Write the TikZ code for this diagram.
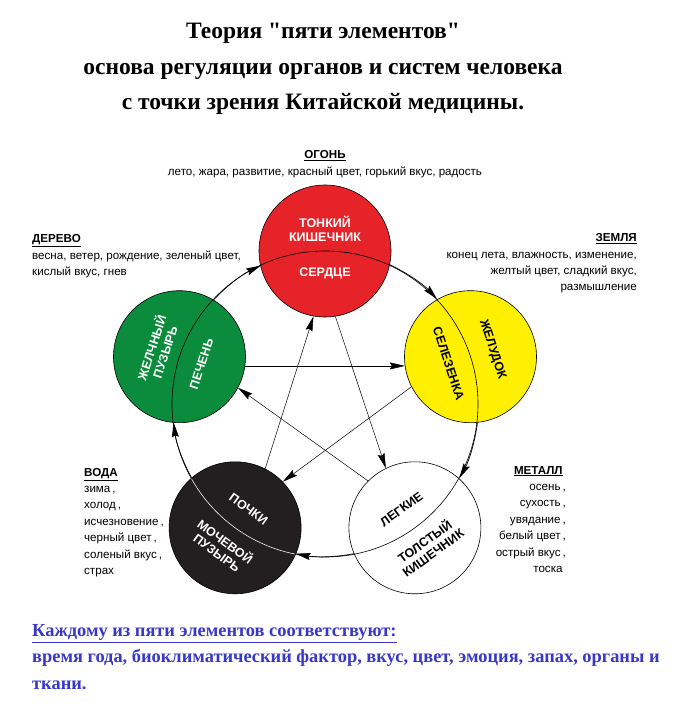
\documentclass[tikz,border=0pt]{standalone}
\usepackage{fontspec}
\setmainfont{Liberation Serif}[Ligatures=TeXOff]
\setsansfont{Liberation Sans}
\usetikzlibrary{arrows.meta}
\definecolor{firered}{RGB}{230,35,40}
\definecolor{woodgreen}{RGB}{10,140,60}
\definecolor{earthyellow}{RGB}{255,240,0}
\definecolor{waterblack}{RGB}{35,31,32}
\definecolor{noteblue}{RGB}{55,55,205}

\begin{document}
\begin{tikzpicture}[x=1pt, y=1pt, >={Stealth[length=15pt,width=7pt,inset=2pt]},
  element/.style={draw, circle, minimum size=132pt, inner sep=0pt, line width=0.6pt},
  organ/.style={font=\sffamily\bfseries\fontsize{12.5}{14}\selectfont, align=center, inner sep=0pt},
  info/.style={font=\sffamily\fontsize{11.6}{16.4}\selectfont, inner sep=0pt},
  cyc/.style={->, line width=0.7pt},
  ctrl/.style={->, line width=0.5pt}]
\useasboundingbox (0,0) rectangle (685,716);

\node[font=\bfseries\fontsize{23.5}{35.5}\selectfont, align=center] (title) at (323,647) {Теория "пяти элементов"\\основа регуляции органов и систем человека\\с точки зрения Китайской медицины.};

\coordinate (centre) at (325,312);
\node[element, fill=firered] (fire) at (325,465) {};
\node[element, fill=woodgreen] (wood) at (179.5,359.3) {};
\node[element, fill=earthyellow] (earth) at (470.5,359.3) {};
\node[element, fill=waterblack] (water) at (235.1,188.2) {};
\node[element, fill=white] (metal) at (414.9,188.2) {};

\draw[line width=0.6pt] (centre) circle[radius=153pt];
\begin{scope}
\clip (water.center) circle[radius=65.5pt];
\draw[white, line width=0.6pt] (centre) circle[radius=153pt];
\end{scope}

\node[organ, text=white] (smallint) at (325,487.5) {ТОНКИЙ\\КИШЕЧНИК};
\node[organ, text=white] (heart) at (325,443) {СЕРДЦЕ};
\node[organ, text=white, rotate=72] (gall) at (157.6,366.4) {ЖЕЛЧНЫЙ\\ПУЗЫРЬ};
\node[organ, text=white, rotate=72] (liver) at (201.4,352.2) {ПЕЧЕНЬ};
\node[organ, rotate=-72] (spleen) at (448.6,352.2) {СЕЛЕЗЕНКА};
\node[organ, rotate=-72] (stomach) at (492.4,366.4) {ЖЕЛУДОК};
\node[organ, text=white, rotate=-36] (kidneys) at (248.6,206.8) {ПОЧКИ};
\node[organ, text=white, rotate=-36] (bladder) at (221.6,169.6) {МОЧЕВОЙ\\ПУЗЫРЬ};
\node[organ, rotate=36] (lungs) at (401.4,206.8) {ЛЕГКИЕ};
\node[organ, rotate=36] (largeint) at (428.4,169.6) {ТОЛСТЫЙ\\КИШЕЧНИК};

\node[info, align=center] (firetext) at (325,552) {\underline{\textbf{ОГОНЬ}}\\лето, жара, развитие, красный цвет, горький вкус, радость};
\node[info, align=left, anchor=west] (woodtext) at (32,459.5) {\underline{\textbf{ДЕРЕВО}}\\весна, ветер, рождение, зеленый цвет,\\кислый вкус, гнев};
\node[info, align=right, anchor=east] (earthtext) at (637,452.5) {\underline{\textbf{ЗЕМЛЯ}}\\конец лета, влажность, изменение,\\желтый цвет, сладкий вкус,\\размышление};
\node[info, align=left, anchor=west] (watertext) at (84,193.5) {\underline{\textbf{ВОДА}}\\зима\,,\\холод\,,\\исчезновение\,,\\черный цвет\,,\\соленый вкус\,,\\страх};
\node[info, align=right, anchor=east] (metaltext) at (566,196) {\underline{\textbf{МЕТАЛЛ}}\phantom{,}\\осень\,,\\сухость\,,\\увядание\,,\\белый цвет\,,\\острый вкус\,,\\тоска\phantom{,}};

\node[font=\bfseries\fontsize{18.4}{26.5}\selectfont, text=noteblue, align=left, anchor=west, inner sep=0pt] (note) at (32,59) {\underline{Каждому из пяти элементов соответствуют:}\\время года, биоклиматический фактор, вкус, цвет, эмоция, запах, органы и\\ткани.};

\draw[cyc] (wood.59.5) arc[start angle=137, end angle=115, radius=153pt];
\draw[cyc] (fire.-12.5) arc[start angle=65, end angle=43, radius=153pt];
\draw[cyc] (earth.-84.5) arc[start angle=-7, end angle=-29, radius=153pt];
\draw[cyc] (metal.203.5) arc[start angle=281, end angle=259, radius=153pt];
\draw[cyc] (water.131.5) arc[start angle=209, end angle=187, radius=153pt];

\draw[ctrl] (wood.-8.7) -- (earth.188.7);
\draw[ctrl] (earth.207.3) -- (water.44.7);
\draw[ctrl] (water.63.3) -- (fire.260.7);
\draw[ctrl] (fire.279.3) -- (metal.116.7);
\draw[ctrl] (metal.135.3) -- (wood.332.7);
\end{tikzpicture}
\end{document}
